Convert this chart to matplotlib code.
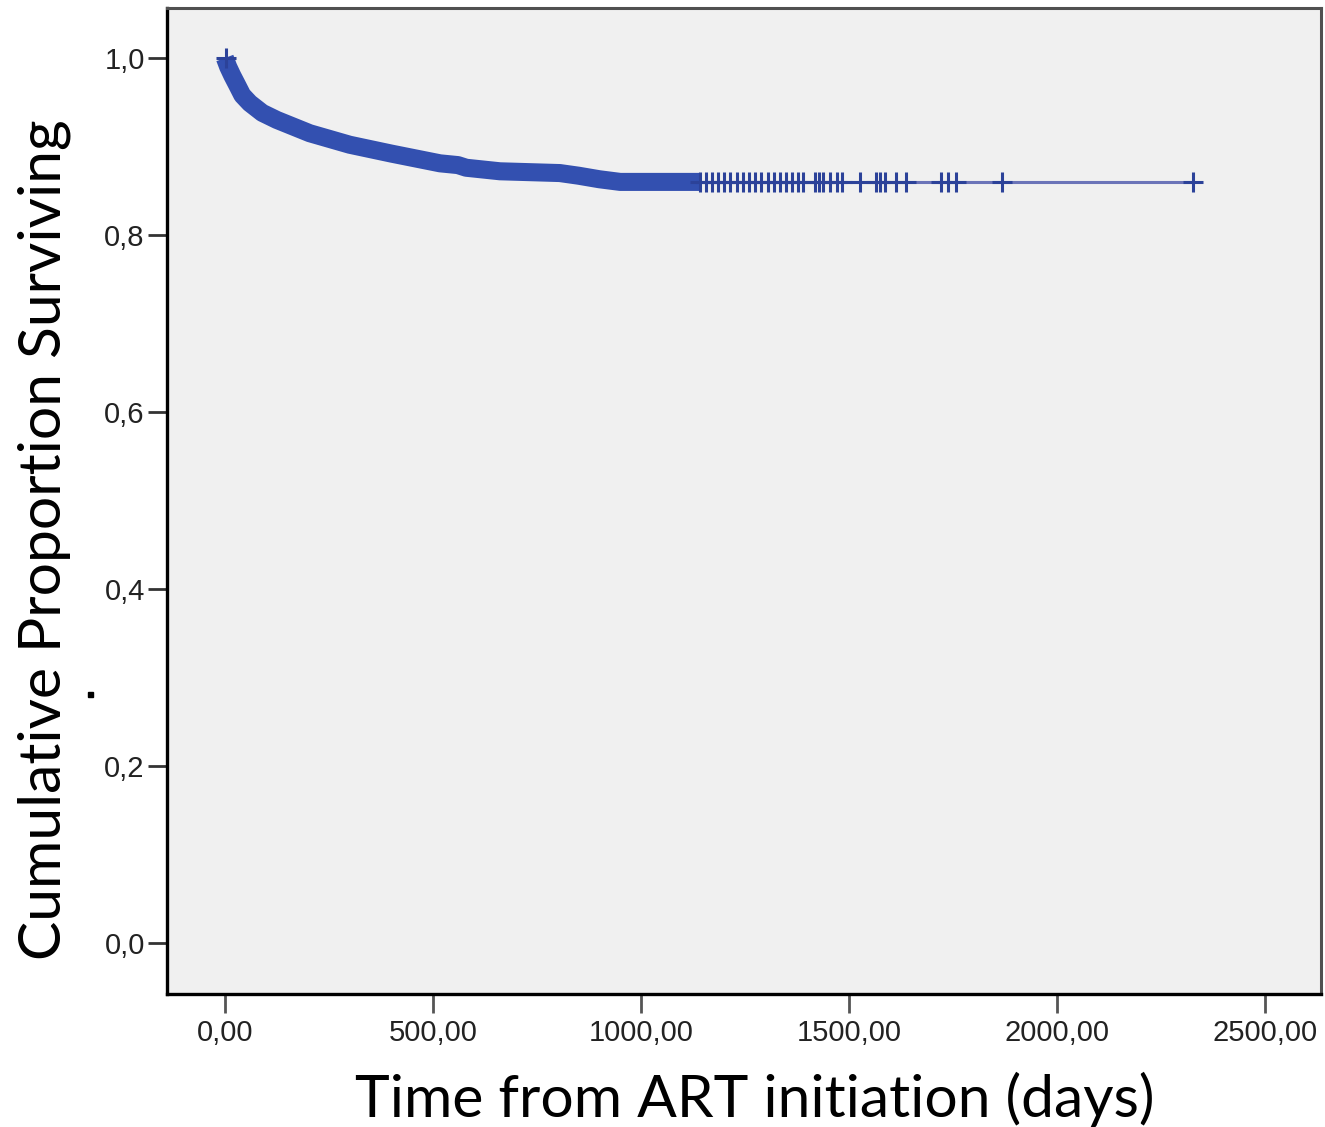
import matplotlib
matplotlib.use("Agg")
import matplotlib.pyplot as plt
from matplotlib.patches import Rectangle

# Kaplan-Meier estimate (days, cumulative proportion surviving)
km_time = [0, 8, 18, 29, 42, 60, 90, 125, 204, 300, 400, 517, 560, 580, 661, 805, 850, 900, 950, 1142]
km_surv = [1.0, 0.99, 0.98, 0.97, 0.958, 0.949, 0.938, 0.930, 0.915, 0.902, 0.892, 0.881, 0.879, 0.876,
           0.872, 0.870, 0.867, 0.863, 0.860, 0.860]

# flat tail after the last event
tail_time = [1142, 2327]
tail_surv = [0.860, 0.860]

# censored cases in the sparse part of the curve
censor_time = [3, 1142, 1156, 1171, 1185, 1200, 1214, 1231, 1245, 1260, 1274, 1288, 1305, 1320, 1334,
               1349, 1363, 1377, 1389, 1418, 1428, 1437, 1454, 1471, 1483, 1526, 1565, 1575, 1587,
               1613, 1637, 1721, 1738, 1757, 1868, 2327]
censor_surv = [1.0] + [0.860] * (len(censor_time) - 1)

x_ticks = [0, 500, 1000, 1500, 2000, 2500]
x_labels = ['0,00', '500,00', '1000,00', '1500,00', '2000,00', '2500,00']
y_ticks = [0.0, 0.2, 0.4, 0.6, 0.8, 1.0]
y_labels = ['0,0', '0,2', '0,4', '0,6', '0,8', '1,0']

W, H = 1325, 1127
fig = plt.figure(figsize=(W / 100, H / 100), dpi=100)
ax = fig.add_axes([167 / W, 1 - 994 / H, (1321 - 167) / W, (994 - 8) / H])
ax.set_facecolor('#f0f0f0')

blue = '#3350b0'
ax.plot(km_time, km_surv, color=blue, lw=13, solid_capstyle='butt', solid_joinstyle='round', zorder=3)
ax.plot(tail_time, tail_surv, color='#6b74b8', lw=2.2, zorder=3)
ax.plot(censor_time, censor_surv, ls='none', marker='+', ms=14, mew=2.2, color='#2c4299', zorder=4)

ax.set_xlim(-139, 2634)
ax.set_ylim(-0.0576, 1.0565)
ax.set_xticks(x_ticks)
ax.set_xticklabels(x_labels)
ax.set_yticks(y_ticks)
ax.set_yticklabels(y_labels)
for lab in ax.get_xticklabels() + ax.get_yticklabels():
    lab.set_fontfamily('Liberation Sans')
    lab.set_fontsize(21)
    lab.set_color('#222222')
ax.tick_params(axis='y', length=14, width=2, color='#333333', pad=2)
ax.tick_params(axis='x', length=14, width=2, color='#555555', pad=4)

for side in ['left', 'bottom']:
    ax.spines[side].set_color('black')
    ax.spines[side].set_linewidth(2.4)
for side in ['top', 'right']:
    ax.spines[side].set_color('#505050')
    ax.spines[side].set_linewidth(2.2)

fig.text(755 / W, 1 - 1117 / H, 'Time from ART initiation (days)', family='Lato',
         fontsize=42.3, ha='center', va='baseline', color='black')
fig.text(44 / W, 1 - 540 / H, 'Cumulative Proportion Surviving', family='Lato',
         fontsize=42.3, ha='center', va='center', rotation=90, color='black')

# stray dot left of the axis in the original
fig.patches.append(Rectangle((88 / W, 1 - 697 / H), 5 / W, 5 / H, transform=fig.transFigure,
                             color='black', figure=fig))

fig.savefig('out.png', dpi=100, facecolor='white')
